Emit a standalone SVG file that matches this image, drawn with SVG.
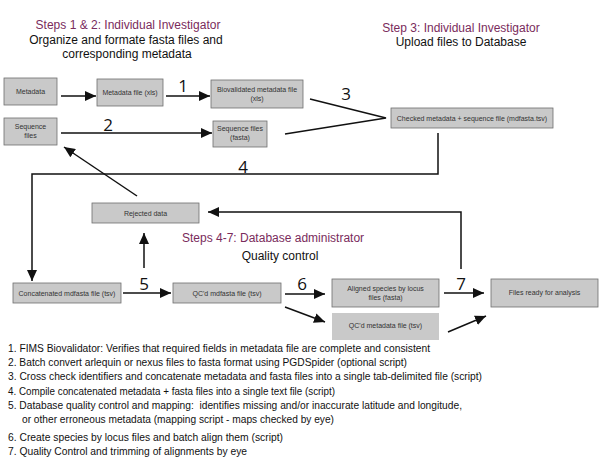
<svg xmlns="http://www.w3.org/2000/svg" width="613" height="465" viewBox="0 0 613 465">
<style>
.box{fill:#c9c9c9;stroke:#6e6e6e;stroke-width:0.8}
.bt{font-family:"Liberation Sans",Arial,sans-serif;font-size:7px;fill:#333;text-anchor:middle}
.ttl{font-family:"Liberation Sans",Arial,sans-serif;font-size:12px;fill:#7a2b5c}
.sub{font-family:"Liberation Sans",Arial,sans-serif;font-size:12px;fill:#111}
.num{font-family:"Open Sans","Liberation Sans",Arial,sans-serif;font-size:17px;fill:#111;text-anchor:middle}
.ln{fill:none;stroke:#111;stroke-width:1.5}
.arr{marker-end:url(#ah)}
.lst{font-family:"Liberation Sans",Arial,sans-serif;font-size:11px;fill:#111;white-space:pre}
</style>
<defs>
<marker id="ah" markerUnits="userSpaceOnUse" markerWidth="12" markerHeight="10" refX="11" refY="5" orient="auto">
<path d="M0,0 L11,5 L0,10 z" fill="#111"/>
</marker>
</defs>
<rect width="613" height="465" fill="#fff"/>
<g id="titles">
<text class="ttl" x="128" y="29" text-anchor="middle">Steps 1 &amp; 2: Individual Investigator</text>
<text class="sub" x="126" y="44" text-anchor="middle">Organize and formate fasta files and</text>
<text class="sub" x="127" y="58" text-anchor="middle">corresponding metadata</text>
<text class="ttl" x="461" y="31.5" text-anchor="middle">Step 3: Individual Investigator</text>
<text class="sub" x="461" y="46" text-anchor="middle">Upload files to Database</text>
<text class="ttl" x="182" y="242">Steps 4-7: Database administrator</text>
<text class="sub" x="280" y="260" text-anchor="middle">Quality control</text>
</g>
<g id="connectors">
<path class="ln arr" d="M61,96 L96,96"/>
<path class="ln arr" d="M166,96 L210,96"/>
<path class="ln arr" d="M61,133 L212,133"/>
<path class="ln" d="M310,99 L386,118 L285,134"/>
<path class="ln arr" d="M438,133 L438,174 L32,174 L32,281"/>
<path class="ln arr" d="M137,196 L64,147"/>
<path class="ln arr" d="M123,293 L171,293"/>
<path class="ln arr" d="M144,268 L144,233"/>
<path class="ln arr" d="M285,294 L325,294"/>
<path class="ln arr" d="M285,307 L325,322"/>
<path class="ln arr" d="M444,293 L484,293"/>
<path class="ln arr" d="M448,332 L486,316"/>
<path class="ln arr" d="M461,269 L461,212 L208,212"/>
<text class="num" x="183" y="92">1</text>
<text class="num" x="108" y="131">2</text>
<text class="num" x="346" y="100">3</text>
<text class="num" x="243" y="173">4</text>
<text class="num" x="144" y="290">5</text>
<text class="num" x="302" y="290">6</text>
<text class="num" x="461" y="290">7</text>
</g>
<g id="n-metadata"><rect class="box" x="4" y="78" width="53" height="27"/><text class="bt" x="30.5" y="94">Metadata</text></g>
<g id="n-metadata-file"><rect class="box" x="97" y="79" width="66" height="27"/><text class="bt" x="130" y="95">Metadata file (xls)</text></g>
<g id="n-biovalidated"><rect class="box" x="211" y="80" width="92" height="28"/><text class="bt" x="257" y="92">Biovalidated metadata file</text><text class="bt" x="257" y="101">(xls)</text></g>
<g id="n-sequence"><rect class="box" x="4" y="118" width="53" height="27"/><text class="bt" x="30.5" y="129">Sequence</text><text class="bt" x="30.5" y="138">files</text></g>
<g id="n-sequence-fasta"><rect class="box" x="213" y="121" width="54" height="26"/><text class="bt" x="240" y="131">Sequence files</text><text class="bt" x="240" y="140">(fasta)</text></g>
<g id="n-checked"><rect class="box" x="391" y="108" width="162" height="20"/><text class="bt" x="472" y="120.5">Checked metadata + sequence file (mdfasta.tsv)</text></g>
<g id="n-rejected"><rect class="box" x="92" y="203" width="107" height="20"/><text class="bt" x="145.5" y="215.5">Rejected data</text></g>
<g id="n-concatenated"><rect class="box" x="13" y="283" width="108" height="20"/><text class="bt" x="67" y="295.5">Concatenated mdfasta file (tsv)</text></g>
<g id="n-qc-mdfasta"><rect class="box" x="173" y="283" width="108" height="20"/><text class="bt" x="227" y="295.5">QC'd mdfasta file (tsv)</text></g>
<g id="n-aligned"><rect class="box" x="332" y="279" width="107" height="28"/><text class="bt" x="385.5" y="291">Aligned species by locus</text><text class="bt" x="385.5" y="300">files (fasta)</text></g>
<g id="n-qc-metadata"><rect x="332" y="313" width="107" height="27" fill="#c9c9c9"/><text class="bt" x="385.5" y="328">QC'd metadata file (tsv)</text></g>
<g id="n-ready"><rect class="box" x="491" y="279" width="107" height="28"/><text class="bt" x="544.5" y="295">Files ready for analysis</text></g>
<g id="legend">
<text class="lst" x="8" y="352" textLength="422" lengthAdjust="spacingAndGlyphs">1. FIMS Biovalidator: Verifies that required fields in metadata file are complete and consistent</text>
<text class="lst" x="8" y="366" textLength="399" lengthAdjust="spacingAndGlyphs">2. Batch convert arlequin or nexus files to fasta format using PGDSpider (optional script)</text>
<text class="lst" x="8" y="380" textLength="474" lengthAdjust="spacingAndGlyphs">3. Cross check identifiers and concatenate metadata and fasta files into a single tab-delimited file (script)</text>
<text class="lst" x="8" y="395" textLength="327" lengthAdjust="spacingAndGlyphs">4. Compile concatenated metadata + fasta files into a single text file (script)</text>
<text class="lst" x="8" y="409" textLength="454" lengthAdjust="spacingAndGlyphs">5. Database quality control and mapping:  identifies missing and/or inaccurate latitude and longitude,</text>
<text class="lst" x="22" y="423" textLength="312" lengthAdjust="spacingAndGlyphs">or other erroneous metadata (mapping script - maps checked by eye)</text>
<text class="lst" x="8" y="441" textLength="275" lengthAdjust="spacingAndGlyphs">6. Create species by locus files and batch align them (script)</text>
<text class="lst" x="8" y="455" textLength="239" lengthAdjust="spacingAndGlyphs">7. Quality Control and trimming of alignments by eye</text>
</g>
</svg>
